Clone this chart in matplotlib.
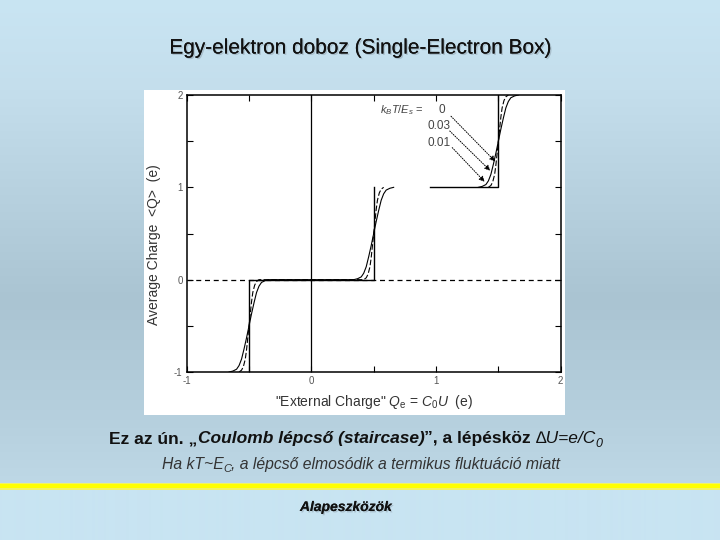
import numpy as np
import matplotlib
matplotlib.use("Agg")
import matplotlib.pyplot as plt
import matplotlib.patheffects as pe
from matplotlib.patches import Rectangle
from matplotlib.transforms import IdentityTransform

plt.rcParams['font.family'] = ['Liberation Sans', 'DejaVu Sans']
plt.rcParams['mathtext.fontset'] = 'custom'
plt.rcParams['mathtext.rm'] = 'Liberation Sans'
plt.rcParams['mathtext.it'] = 'Liberation Sans:italic'
plt.rcParams['mathtext.bf'] = 'Liberation Sans:bold'

# ---------------- data ----------------
title = "Egy-elektron doboz (Single-Electron Box)"
x_ticks = [-1, 0, 1, 2]
y_ticks = [-1, 0, 1, 2]
minor_ticks = [-0.5, 0.5, 1.5]

# T = 0 staircase (two drawn pieces)
t0_lower_x = [-0.5, -0.5, 0.5, 0.5]
t0_lower_y = [-1, 0, 0, 1]
t0_upper_x = [0.95, 1.5, 1.5]
t0_upper_y = [1, 1, 2]

# step positions for each drawn piece, and base charge level before each step
lower_steps = [-0.5, 0.5]
lower_base = [-1, 0]
upper_steps = [1.5]
upper_base = [1]

# thermal step profiles (offset from step, fraction of step)
wide_dx = [-0.16, -0.13, -0.10, -0.08, -0.06, -0.04, -0.02, 0.0,
           0.02, 0.04, 0.06, 0.08, 0.10, 0.13, 0.16]
wide_frac = [0.0, 0.01, 0.03, 0.07, 0.14, 0.25, 0.37, 0.5,
             0.63, 0.75, 0.86, 0.93, 0.97, 0.99, 1.0]
narrow_dx = [-0.08, -0.06, -0.045, -0.03, -0.02, -0.01, 0.0,
             0.01, 0.02, 0.03, 0.045, 0.06, 0.08]
narrow_frac = [0.0, 0.02, 0.06, 0.14, 0.24, 0.37, 0.5,
               0.63, 0.76, 0.86, 0.94, 0.98, 1.0]

legend_title = r"$k_BT/E_s$ ="
legend_values = ["0", "0.03", "0.01"]
legend_text_pos = [(1.07, 1.84), (0.93, 1.66), (0.93, 1.48)]
legend_arrow_from = [(1.12, 1.77), (1.11, 1.61), (1.13, 1.43)]
legend_arrow_to = [(1.475, 1.28), (1.435, 1.18), (1.39, 1.06)]

# ---------------- figure ----------------
W, H = 720, 540
fig = plt.figure(figsize=(7.2, 5.4), dpi=100)

# background gradient
bg = fig.add_axes([0, 0, 1, 1], zorder=-10)
bg.axis('off')
stops_y = [0, 90, 300, 420, 483, 540]
stops_c = np.array([(201, 229, 243), (196, 222, 236), (170, 196, 210),
                    (182, 208, 222), (190, 216, 230), (200, 228, 242)]) / 255.0
yy = np.arange(H)
grad = np.zeros((H, 1, 3))
for k in range(3):
    grad[:, 0, k] = np.interp(yy, stops_y, stops_c[:, k])
below = yy >= 489
grad[below, 0, :] = np.array((200, 228, 242)) / 255.0
bg.imshow(grad, aspect='auto', extent=[0, W, H, 0], interpolation='bilinear')
bg.set_xlim(0, W)
bg.set_ylim(H, 0)
# yellow separator
bg.add_patch(Rectangle((0, 482.5), W, 7, color=(0.95, 0.95, 0.4), lw=0))
bg.add_patch(Rectangle((0, 484), W, 4, color=(1.0, 1.0, 0.0), lw=0))
# white chart box
bg.add_patch(Rectangle((144, 90), 421, 325, color='white', lw=0))

shadow = [pe.withSimplePatchShadow(offset=(1.0, -1.0), shadow_rgbFace=(0.45, 0.5, 0.55), alpha=0.35),
          pe.Normal()]

fig.text(361 / W, 1 - 48 / H, title, ha='center', va='center', fontsize=15,
         color='#111111', path_effects=shadow)

# ---------------- chart ----------------
ax = fig.add_axes([186.7 / W, 1 - 372 / H, (560.7 - 186.7) / W, (372 - 95) / H])
ax.set_xlim(-1, 2)
ax.set_ylim(-1, 2)

ax.axvline(0, color='black', lw=0.9)
ax.axhline(0, color='black', lw=0.9, ls=(0, (4, 3)))

ax.plot(t0_lower_x, t0_lower_y, color='black', lw=1.0)
ax.plot(t0_upper_x, t0_upper_y, color='black', lw=1.0)


def build(steps, bases, dx, frac):
    xs, ys = [], []
    for s, b in zip(steps, bases):
        xs.extend([s + d for d in dx])
        ys.extend([b + f for f in frac])
    return xs, ys


for steps, bases in [(lower_steps, lower_base), (upper_steps, upper_base)]:
    wx, wy = build(steps, bases, wide_dx, wide_frac)
    ax.plot(wx, wy, color='black', lw=0.8)
    nx, ny = build(steps, bases, narrow_dx, narrow_frac)
    ax.plot(nx, ny, color='black', lw=0.8, ls=(0, (5, 2)))

ax.set_xticks(x_ticks)
ax.set_yticks(y_ticks)
ax.set_xticks(minor_ticks, minor=True)
ax.set_yticks(minor_ticks, minor=True)
ax.tick_params(which='both', direction='in', top=True, right=True, length=4,
               width=0.8, labelsize=7, labelcolor='#555555', pad=3)
ax.set_xticklabels([str(v) for v in x_ticks])
ax.set_yticklabels([str(v) for v in y_ticks])
for sp in ax.spines.values():
    sp.set_linewidth(1.1)

ax.set_xlabel(r'"External Charge" $Q_{\rm e}$ = $C_0U$  (e)', fontsize=10,
              color='#333333', labelpad=5)
ax.set_ylabel('Average Charge  <Q>  (e)', fontsize=10, color='#333333')
ax.yaxis.set_label_coords(-0.068, 0.46)

ax.text(0.55, 1.84, legend_title, fontsize=8, color='#444444', ha='left', va='center')
for (tx, ty), lab in zip(legend_text_pos, legend_values):
    ax.text(tx, ty, lab, fontsize=8.5, color='#444444',
            ha='right' if lab == "0" else 'left', va='center')
for a0, a1 in zip(legend_arrow_from, legend_arrow_to):
    ax.annotate('', xy=a1, xytext=a0,
                arrowprops=dict(arrowstyle='-|>', lw=0.7, ls=(0, (1, 1.5)),
                                color='black', mutation_scale=8,
                                shrinkA=0, shrinkB=0))

# ---------------- captions ----------------
renderer = fig.canvas.get_renderer()


def place(pieces, xc, y):
    items = []
    total = 0
    for s, kw, gap, dy in pieces:
        t = fig.text(0, 0, s, transform=IdentityTransform(), va='baseline', **kw)
        w = t.get_window_extent(renderer).width
        items.append((t, w, gap, dy))
        total += w + gap
    x = xc - total / 2
    for t, w, gap, dy in items:
        t.set_position((x, y + dy))
        x += w + gap


bold = dict(fontsize=12.5, fontweight='bold', color='#111111')
bolditalic = dict(fontsize=12.5, fontweight='bold', style='italic', color='#111111')
ital = dict(fontsize=12.5, style='italic', color='#111111')
sub = dict(fontsize=9, style='italic', color='#111111')
sp1 = 4.5
place([("Ez az ún. „", bold, 0, 0),
       ("Coulomb lépcső (staircase)", bolditalic, 0, 0),
       ("”, a lépésköz", bold, sp1, 0),
       ("∆U=e/C", ital, 0, 0),
       ("0", sub, 0, -4)], 356, H - 443)

it2 = dict(fontsize=11.3, style='italic', color='#333333')
sub2 = dict(fontsize=8, style='italic', color='#333333')
place([("Ha kT~E", it2, 0, 0),
       ("C", sub2, 0, -3),
       (", a lépcső elmosódik a termikus fluktuáció miatt", it2, 0, 0)], 361, H - 469)

fig.text(346 / W, 1 - 507 / H, "Alapeszközök", ha='center', va='center', fontsize=10,
         fontweight='bold', style='italic', color='#111111', path_effects=shadow)

fig.savefig("out.png", dpi=100)
